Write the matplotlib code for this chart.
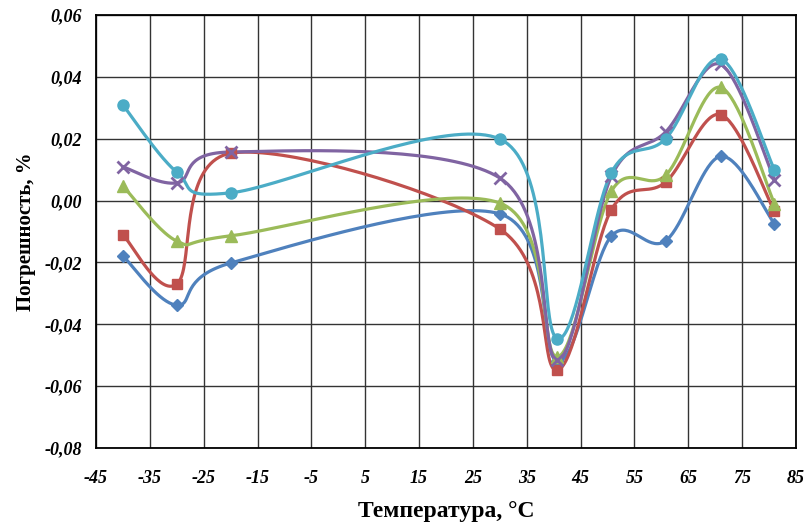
import numpy as np
import matplotlib
matplotlib.use("Agg")
import matplotlib.pyplot as plt
from matplotlib.ticker import FuncFormatter

plt.rcParams["axes.unicode_minus"] = False

# temperatures, deg C
temps = [-40, -30, -20, 30, 40.7, 50.7, 60.8, 71, 81]

# errors, %
s_blue = [-0.0179, -0.0338, -0.0202, -0.0043, -0.0520, -0.0115, -0.0130, 0.0143, -0.0075]
s_red = [-0.0111, -0.0270, 0.0153, -0.0092, -0.0548, -0.0030, 0.0060, 0.0278, -0.0035]
s_green = [0.0047, -0.0131, -0.0114, -0.0008, -0.0505, 0.0030, 0.0082, 0.0366, -0.0010]
s_purple = [0.0109, 0.0057, 0.0157, 0.0073, -0.0515, 0.0078, 0.0222, 0.0440, 0.0068]
s_cyan = [0.0309, 0.0092, 0.0025, 0.0199, -0.0446, 0.0090, 0.0200, 0.0458, 0.0099]

series = [
    (s_blue, "#4F81BD", "D", 6, 1.0),
    (s_red, "#C0504D", "s", 7.5, 1.0),
    (s_green, "#9BBB59", "^", 8, 1.0),
    (s_purple, "#8064A2", "x", 8, 2.0),
    (s_cyan, "#4BACC6", "o", 8, 1.0),
]

xlim = (-45, 85)
ylim = (-0.08, 0.06)


def smooth(xs, ys, n=40):
    # excel-like smoothed line (catmull-rom -> bezier), done in axes-normalised space
    px = (np.asarray(xs) - xlim[0]) / (xlim[1] - xlim[0]) * 700
    py = (np.asarray(ys) - ylim[0]) / (ylim[1] - ylim[0]) * 433
    pts = np.column_stack([px, py])
    ext = np.vstack([pts[0], pts, pts[-1]])
    out = []
    t = np.linspace(0, 1, n)[:, None]
    for i in range(len(pts) - 1):
        p0, p1, p2, p3 = ext[i], ext[i + 1], ext[i + 2], ext[i + 3]
        c1 = p1 + (p2 - p0) / 6
        c2 = p2 - (p3 - p1) / 6
        b = ((1 - t) ** 3) * p1 + 3 * ((1 - t) ** 2) * t * c1 + 3 * (1 - t) * t ** 2 * c2 + t ** 3 * p2
        out.append(b)
    out = np.vstack(out)
    bx = out[:, 0] / 700 * (xlim[1] - xlim[0]) + xlim[0]
    by = out[:, 1] / 433 * (ylim[1] - ylim[0]) + ylim[0]
    return bx, by


fig = plt.figure(figsize=(8.06, 5.24), dpi=100)
ax = fig.add_axes([96 / 806, 76 / 524, 700 / 806, 433 / 524])

for ys, col, mk, ms, mew in series:
    bx, by = smooth(temps, ys)
    ax.plot(bx, by, color=col, lw=2.3, solid_capstyle="round", zorder=3)
    ax.plot(temps, ys, linestyle="none", marker=mk, color=col, markersize=ms,
            markeredgewidth=mew, zorder=4)

ax.set_xlim(*xlim)
ax.set_ylim(*ylim)
ax.set_xticks(np.arange(-45, 86, 10))
ax.set_yticks(np.arange(-0.08, 0.061, 0.02))
ax.yaxis.set_major_formatter(FuncFormatter(lambda v, p: ("%.2f" % v).replace(".", ",").replace("-0,00", "0,00")))
ax.grid(True, color="#333333", lw=1.0)
ax.set_axisbelow(True)
ax.tick_params(axis="x", length=0, pad=16)
ax.tick_params(axis="y", length=0, pad=10)
for sp in ax.spines.values():
    sp.set_linewidth(1.3)

for lbl in ax.get_xticklabels() + ax.get_yticklabels():
    lbl.set_fontfamily("Liberation Serif")
    lbl.set_fontweight("bold")
    lbl.set_fontstyle("italic")
    lbl.set_fontsize(13)

ax.set_xlabel("Температура, °C", fontfamily="Liberation Serif", fontweight="bold",
              fontsize=17, labelpad=10)
ax.set_ylabel("Погрешность, %", fontfamily="Liberation Serif", fontweight="bold",
              fontsize=15, labelpad=6)

plt.savefig("out.png", dpi=100)
